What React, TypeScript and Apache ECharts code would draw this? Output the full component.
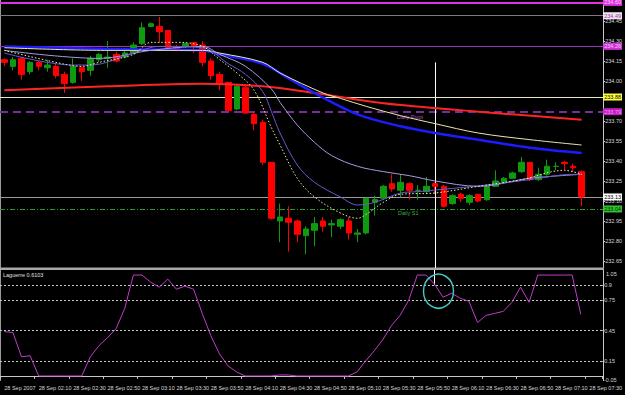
import React, { useEffect, useRef } from 'react';
import * as echarts from 'echarts';

// 5-minute bars, 28 Sep 2007, 01:50 .. 07:35 (last 2 slots empty = chart shift)
const times: string[] = [];
for (let m = 110; m <= 455; m += 5) {
  const h = Math.floor(m / 60);
  const mm = m % 60;
  times.push(`${String(h).padStart(2, '0')}:${String(mm).padStart(2, '0')}`);
}

// [open, close, low, high]
const candles: number[][] = [
  [234.16, 234.14, 234.11, 234.17],
  [234.11, 234.16, 234.08, 234.18],
  [234.17, 234.05, 234.01, 234.18],
  [234.07, 234.14, 234.05, 234.15],
  [234.14, 234.11, 234.08, 234.15],
  [234.10, 234.12, 234.07, 234.16],
  [234.11, 234.04, 234.02, 234.13],
  [234.05, 233.98, 233.91, 234.07],
  [233.99, 234.11, 233.98, 234.17],
  [234.10, 234.07, 234.00, 234.11],
  [234.08, 234.17, 234.04, 234.19],
  [234.16, 234.20, 234.14, 234.21],
  [234.17, 234.18, 234.10, 234.30],
  [234.20, 234.15, 234.14, 234.22],
  [234.18, 234.21, 234.17, 234.23],
  [234.21, 234.27, 234.20, 234.29],
  [234.28, 234.40, 234.27, 234.44],
  [234.41, 234.43, 234.41, 234.44],
  [234.41, 234.37, 234.29, 234.48],
  [234.38, 234.25, 234.24, 234.38],
  [234.26, 234.24, 234.23, 234.27],
  [234.26, 234.28, 234.25, 234.29],
  [234.29, 234.26, 234.21, 234.29],
  [234.27, 234.14, 234.11, 234.30],
  [234.15, 234.04, 234.01, 234.17],
  [234.05, 233.98, 233.93, 234.07],
  [233.99, 233.78, 233.77, 233.99],
  [233.79, 233.96, 233.78, 233.97],
  [233.95, 233.76, 233.75, 233.97],
  [233.75, 233.68, 233.63, 233.77],
  [233.69, 233.39, 233.37, 233.71],
  [233.39, 232.97, 232.96, 233.39],
  [232.95, 232.98, 232.79, 233.08],
  [232.97, 232.94, 232.72, 233.06],
  [232.95, 232.85, 232.79, 232.96],
  [232.84, 232.89, 232.70, 232.91],
  [232.88, 232.93, 232.76, 232.98],
  [232.95, 232.91, 232.87, 232.98],
  [232.92, 232.93, 232.83, 232.96],
  [232.91, 232.96, 232.89, 232.97],
  [232.95, 232.86, 232.81, 232.98],
  [232.85, 232.86, 232.79, 232.89],
  [232.86, 233.12, 232.85, 233.12],
  [233.09, 233.11, 232.99, 233.14],
  [233.12, 233.21, 233.11, 233.22],
  [233.23, 233.19, 233.17, 233.30],
  [233.18, 233.24, 233.13, 233.30],
  [233.23, 233.18, 233.11, 233.24],
  [233.18, 233.18, 233.11, 233.22],
  [233.17, 233.21, 233.16, 233.28],
  [233.23, 233.21, 233.15, 233.24],
  [233.21, 233.06, 233.05, 233.22],
  [233.08, 233.14, 233.07, 233.15],
  [233.15, 233.12, 233.09, 233.16],
  [233.09, 233.14, 233.07, 233.15],
  [233.15, 233.10, 233.09, 233.15],
  [233.11, 233.21, 233.10, 233.22],
  [233.21, 233.25, 233.21, 233.33],
  [233.24, 233.27, 233.23, 233.28],
  [233.27, 233.31, 233.27, 233.32],
  [233.32, 233.39, 233.31, 233.43],
  [233.39, 233.26, 233.25, 233.39],
  [233.26, 233.30, 233.25, 233.35],
  [233.30, 233.36, 233.29, 233.41],
  [233.36, 233.36, 233.33, 233.39],
  [233.39, 233.38, 233.33, 233.40],
  [233.36, 233.35, 233.32, 233.38],
  [233.32, 233.13, 233.06, 233.33],
];

// moving averages, read as [bar index, price]
const maRed: number[][] = [
  [0, 233.93], [12, 233.96], [23, 233.98], [30, 233.96], [36, 233.91],
  [41, 233.86], [46, 233.82], [55, 233.77], [67, 233.71],
];
const maBlue: number[][] = [
  [0, 234.26], [12, 234.24], [23, 234.23], [25, 234.2], [30, 234.13], [33, 234.02],
  [36, 233.91], [41, 233.75], [46, 233.66], [50, 233.61], [55, 233.56], [61, 233.5], [67, 233.46],
];
const maPale: number[][] = [
  [0, 234.25], [12, 234.23], [23, 234.23], [25, 234.21], [30, 234.14], [32, 234.06],
  [37, 233.91], [39, 233.87], [42, 233.81], [46, 233.74], [50, 233.68], [55, 233.61],
  [61, 233.56], [67, 233.52],
];
const maLavender: number[][] = [
  [0, 234.23], [11, 234.17], [17, 234.23], [23, 234.26], [25, 234.2], [28, 234.11],
  [31, 233.94], [32, 233.84], [34, 233.67], [36, 233.54], [38, 233.44], [41, 233.36],
  [44, 233.32], [47, 233.29], [50, 233.25], [55, 233.21], [61, 233.27], [67, 233.3],
];
const maViolet: number[][] = [
  [0, 234.21], [8, 234.12], [10, 234.12], [15, 234.21], [18, 234.26], [23, 234.25],
  [26, 234.13], [28, 234.05], [30, 233.92], [31, 233.77], [32, 233.61], [34, 233.37],
  [36, 233.24], [39, 233.13], [41, 233.07], [43, 233.09], [46, 233.16], [48, 233.17],
  [56, 233.22], [61, 233.26], [66, 233.3], [67, 233.3],
];
const maFast: number[][] = [
  [0, 234.23], [6, 234.14], [9, 234.11], [11, 234.14], [15, 234.2], [17, 234.29],
  [20, 234.29], [23, 234.26], [25, 234.16], [27, 234.06], [29, 233.93], [31, 233.65],
  [32, 233.52], [34, 233.27], [36, 233.13], [39, 233.01], [41, 232.97], [42, 233.0],
  [44, 233.09], [46, 233.15], [50, 233.16], [55, 233.21], [60, 233.26], [65, 233.33], [67, 233.3],
];

const laguerre: number[] = [
  0.44, 0.43, 0.19, 0.2, 0, 0, 0, 0, 0, 0,
  0.19, 0.3, 0.38, 0.47, 0.67, 1, 1, 0.93, 0.88, 0.96,
  0.86, 0.89, 0.86, 0.62, 0.4, 0.22, 0.1, 0.04, 0, 0,
  0, 0, 0.01, 0.01, 0, 0, 0, 0, 0, 0,
  0, 0.04, 0.15, 0.25, 0.36, 0.5, 0.6, 0.75, 1, 1,
  0.91, 0.78, 0.82, 0.77, 0.74, 0.53, 0.6, 0.62, 0.64, 0.73,
  0.88, 0.73, 1, 1, 1, 1, 1, 0.61,
];

const priceTicks = [232.65, 232.8, 232.95, 233.1, 233.25, 233.4, 233.55, 233.7, 234.0, 234.15, 234.3, 234.45];
const lagTicks = [0.9, 0.75, 0.45, 0.15];
const lagLevels = [0.9, 0.75, 0.45, 0.15, 0];

const levelValues = [234.59, 234.49, 234.26, 233.88, 233.77, 233.13, 233.04];
const levelLabels = ['234.60', '234.49', '234.26', '233.88', '233.79', '233.13', '233.04'];

const crossBar = 50;
const priceMin = 232.597;
const priceMax = 234.608;

const FONT = 'Liberation Sans';
const FS = 5.5;

export default function App() {
  const ref = useRef<HTMLDivElement>(null);
  useEffect(() => {
    const chart = echarts.init(ref.current!, null, { renderer: 'svg' });

    const levelStyles = [
      { line: { color: '#e030e0', width: 2, type: 'solid' }, bg: '#e030e0', fg: '#ffd0ff' },
      { line: { color: '#7a7a7a', width: 1, type: 'solid' }, bg: '#e8e8e8', fg: '#c020c0' },
      { line: { color: '#a030c8', width: 1, type: 'solid' }, bg: '#d030d8', fg: '#ffc8ff' },
      { line: { color: '#e6e6c8', width: 1, type: 'solid' }, bg: '#ffff40', fg: '#000000' },
      { line: { color: '#7a2c9c', width: 2, type: [8, 5] }, bg: '#c020c0', fg: '#ff90ff' },
      { line: { color: '#9a9a9a', width: 1, type: 'solid' }, bg: '#ffffff', fg: '#000000' },
      { line: { color: '#2e9a2e', width: 1, type: [5, 2, 1, 2] }, bg: '#30c030', fg: '#003000' },
    ];

    const maLine = (data: number[][], color: string, width: number, type: any = 'solid', z = 4) => ({
      type: 'line',
      xAxisIndex: 0,
      yAxisIndex: 0,
      data,
      symbol: 'none',
      smooth: 0.35,
      silent: true,
      z,
      lineStyle: { color, width, type },
    });

    const option: any = {
      animation: false,
      backgroundColor: '#000000',
      grid: [
        { left: -3.35, top: 0, width: 608.3, height: 268 },
        { left: -3.35, top: 270, width: 608.3, height: 111 },
      ],
      xAxis: [
        {
          type: 'category', gridIndex: 0, data: times,
          axisLine: { show: false }, axisTick: { show: false }, axisLabel: { show: false },
          splitLine: { show: false },
        },
        {
          type: 'category', gridIndex: 1, data: times,
          axisLine: { show: true, lineStyle: { color: '#c8c8c8', width: 1 } },
          axisTick: { show: true, interval: 3, length: 3, lineStyle: { color: '#c8c8c8' } },
          axisLabel: {
            show: true, interval: 3, align: 'left', margin: 4,
            color: '#d8d8d8', fontFamily: FONT, fontSize: FS,
            formatter: (v: string, i: number) => (i === 0 ? '28 Sep 2007' : '28 Sep ' + v),
          },
          splitLine: { show: false },
        },
      ],
      yAxis: [
        {
          type: 'value', gridIndex: 0, position: 'right', min: priceMin, max: priceMax,
          splitLine: { show: false }, axisLine: { show: false },
          axisTick: { show: true, length: 2, customValues: priceTicks, lineStyle: { color: '#c8c8c8' } },
          axisLabel: {
            show: true, customValues: priceTicks, margin: 2, color: '#d8d8d8',
            fontFamily: FONT, fontSize: FS, formatter: (v: number) => v.toFixed(2),
          },
        },
        {
          type: 'value', gridIndex: 1, position: 'right', min: -0.05, max: 1.05,
          splitLine: { show: false }, axisLine: { show: false },
          axisTick: { show: true, length: 2, customValues: lagTicks, lineStyle: { color: '#c8c8c8' } },
          axisLabel: {
            show: true, customValues: lagTicks, margin: 2, color: '#d8d8d8',
            fontFamily: FONT, fontSize: FS, formatter: (v: number) => String(v),
          },
        },
      ],
      series: [
        {
          type: 'candlestick',
          xAxisIndex: 0, yAxisIndex: 0,
          data: candles,
          barWidth: 6,
          z: 2,
          itemStyle: {
            color: '#0f9a0f', color0: '#ff0000',
            borderColor: '#0f9a0f', borderColor0: '#ff0000', borderWidth: 1,
          },
          markLine: {
            silent: true,
            symbol: ['none', 'none'],
            z: 1,
            data: [
              ...levelValues.map((v, k) => ({
                yAxis: v,
                name: levelLabels[k],
                lineStyle: levelStyles[k].line,
                label: {
                  show: true, position: 'end', distance: 0, formatter: '{b}',
                  backgroundColor: levelStyles[k].bg, color: levelStyles[k].fg,
                  padding: [1, 1, 0, 1], fontFamily: FONT, fontSize: FS,
                },
              })),
              [
                { coord: [times[crossBar], 234.14], lineStyle: { color: '#ffffff', width: 1, type: 'solid' }, label: { show: false } },
                { coord: [times[crossBar], priceMin] },
              ],
            ],
          },
        },
        maLine(maRed, '#ff2424', 2),
        maLine(maBlue, '#1c1cff', 2.5),
        maLine(maPale, '#e8e6b4', 1),
        maLine(maLavender, '#a49ce0', 1),
        maLine(maViolet, '#6a58d0', 1),
        maLine(maFast, '#f0f0a8', 1, [1.5, 2], 5),
        {
          type: 'line',
          xAxisIndex: 1, yAxisIndex: 1,
          data: laguerre,
          symbol: 'none',
          silent: true,
          z: 3,
          lineStyle: { color: '#c23cc8', width: 1 },
          markLine: {
            silent: true,
            symbol: ['none', 'none'],
            z: 1,
            lineStyle: { color: '#c8c8c8', width: 1, type: [2, 2] },
            label: { show: false },
            data: [
              ...lagLevels.map((v) => ({ yAxis: v })),
              [
                { coord: [times[crossBar], 1.05], lineStyle: { color: '#ffffff', width: 1, type: 'solid' } },
                { coord: [times[crossBar], 0.9] },
              ],
            ],
          },
          markPoint: {
            silent: true,
            symbol: 'circle',
            symbolSize: [30, 34],
            symbolOffset: [4, 0],
            itemStyle: { color: 'rgba(0,0,0,0)', borderColor: '#48c8c8', borderWidth: 1.5 },
            label: { show: false },
            data: [{ coord: [times[crossBar], 0.84] }],
          },
        },
      ],
      graphic: [
        { type: 'line', silent: true, shape: { x1: 603.5, y1: 0, x2: 603.5, y2: 381 }, style: { stroke: '#c8c8c8', lineWidth: 1 } },
        { type: 'line', silent: true, shape: { x1: 0.5, y1: 0, x2: 0.5, y2: 381 }, style: { stroke: '#9a9a9a', lineWidth: 1 } },
        { type: 'rect', silent: true, shape: { x: 0, y: 267.5, width: 604, height: 2.5 }, style: { fill: '#a8a8a8' } },
        { type: 'text', silent: true, x: 3, y: 272, style: { text: 'Laguerre 0.6103', fill: '#e0e0e0', font: `${FS}px "${FONT}"` } },
        { type: 'text', silent: true, x: 606, y: 271, style: { text: '1.05', fill: '#d8d8d8', font: `${FS}px "${FONT}"` } },
        { type: 'text', silent: true, x: 604, y: 377, style: { text: '-0.05', fill: '#d8d8d8', font: `${FS}px "${FONT}"` } },
        { type: 'text', silent: true, x: 397, y: 114, style: { text: 'Daily Pivot', fill: '#b452c0', font: `${FS}px "${FONT}"` } },
        { type: 'text', silent: true, x: 398, y: 210, style: { text: 'Daily S1', fill: '#3cb03c', font: `${FS}px "${FONT}"` } },
      ],
    };

    chart.setOption(option);
    return () => chart.dispose();
  }, []);

  return (
    <div
      ref={ref}
      style={{ position: 'absolute', left: 0, top: 0, width: 625, height: 395, background: '#000000' }}
    />
  );
}
